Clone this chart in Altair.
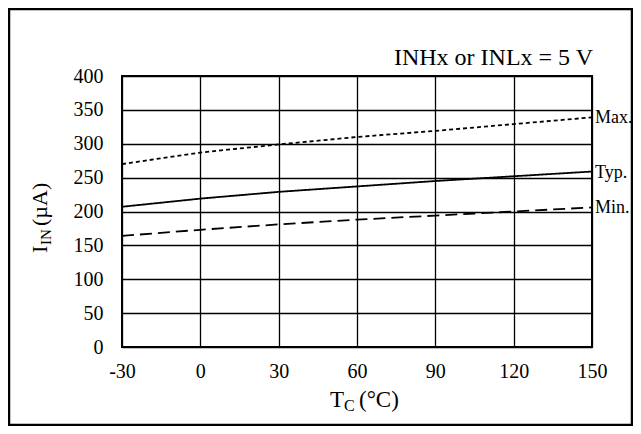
import altair as alt
import pandas as pd

temps = [-30, 0, 30, 60, 90, 120, 150]
max_vals = [270, 287, 299, 310, 319, 329, 339]
typ_vals = [207, 219, 229, 237, 245, 252, 259]
min_vals = [164, 173, 181, 188, 194, 200, 206]
series_names = ["Max.", "Typ.", "Min."]
x_ticks = [-30, 0, 30, 60, 90, 120, 150]
y_ticks = [0, 50, 100, 150, 200, 250, 300, 350, 400]
note_text = "INHx or INLx = 5 V"

FONT = "Liberation Serif"
W, H = 470, 271

rows = []
for name, vals in zip(series_names, [max_vals, typ_vals, min_vals]):
    for t, v in zip(temps, vals):
        rows.append({"T": t, "I": v, "series": name})
df = pd.DataFrame(rows)

end_df = pd.DataFrame({
    "T": [temps[-1]] * 3,
    "I": [max_vals[-1], typ_vals[-1], min_vals[-1]],
    "series": series_names,
})

xs = alt.Scale(domain=[-30, 150], nice=False, zero=False)
ys = alt.Scale(domain=[0, 400], nice=False)

axis_common = dict(title=None, grid=True, ticks=False, tickSize=0, domain=False,
                   labelFontSize=20, labelFont=FONT, labelColor="black",
                   gridColor="black", gridWidth=1.3, gridOpacity=1,
                   labelFlush=False, labelOverlap=False,
                   labelExpr="toString(datum.value)")
ax_x = alt.Axis(values=x_ticks, labelPadding=14, **axis_common)
ax_y = alt.Axis(values=y_ticks, labelPadding=19, **axis_common)

lines = alt.Chart(df).mark_line(color="black", strokeWidth=1.8, clip=True).encode(
    x=alt.X("T:Q", scale=xs, axis=ax_x),
    y=alt.Y("I:Q", scale=ys, axis=ax_y),
    detail="series:N",
    strokeDash=alt.StrokeDash("series:N",
                              scale=alt.Scale(domain=series_names,
                                              range=[[4, 3], [1, 0], [12, 6]]),
                              legend=None),
)

end_labels = alt.Chart(end_df).mark_text(
    align="left", baseline="middle", dx=3, dy=1, fontSize=18, font=FONT, color="black"
).encode(x=alt.X("T:Q", scale=xs, axis=ax_x), y=alt.Y("I:Q", scale=ys, axis=ax_y),
         text="series:N")

one = pd.DataFrame({"a": [0]})

note = alt.Chart(one).mark_text(
    align="right", baseline="alphabetic", fontSize=24, font=FONT, color="black"
).encode(x=alt.value(W + 1), y=alt.value(-11), text=alt.value(note_text))


def txt(s, x, y, size, angle=0):
    kw = dict(align="left", baseline="alphabetic", fontSize=size, font=FONT, color="black")
    if angle:
        kw["angle"] = angle
    return alt.Chart(one).mark_text(**kw).encode(
        x=alt.value(x), y=alt.value(y), text=alt.value(s))


# x title: T_C (°C)
xt1 = txt("T", 208, 331, 23)
xt2 = txt("C", 222, 335, 16)
xt3 = txt("(°C)", 237, 331, 23)

# y title: I_IN (µA)
yt1 = txt("I", -75, 177, 22, 270)
yt2 = txt("IN", -71, 169, 15, 270)
yt3 = txt("(µA)", -75, 150, 22, 270)

border = alt.Chart(one).mark_rect(filled=False, stroke="black", strokeWidth=2.5).encode(
    x=alt.value(-113), x2=alt.value(510), y=alt.value(-67), y2=alt.value(349))

chart = alt.layer(lines, end_labels, note, xt1, xt2, xt3, yt1, yt2, yt3, border).properties(
    width=W, height=H,
    padding={"left": 114, "top": 68, "right": 41, "bottom": 79},
    autosize=alt.AutoSizeParams(type="none"),
    background="white",
).configure_view(stroke="black", strokeWidth=2)

chart.save("out.html", embed_options={"renderer": "svg", "actions": False})
